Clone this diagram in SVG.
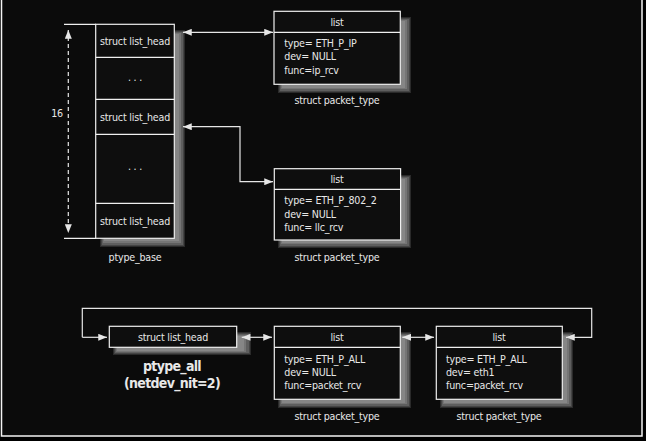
<svg xmlns="http://www.w3.org/2000/svg" width="646" height="441" viewBox="0 0 646 441">
<defs>
<marker id="ah" viewBox="0 0 10 8" refX="10" refY="4" markerWidth="9" markerHeight="7" markerUnits="userSpaceOnUse" orient="auto-start-reverse">
<path d="M0,0 L10,4 L0,8 Z" fill="#e6e6e6"/>
</marker>
</defs>
<style>
text{font-family:"Liberation Sans Narrow","DejaVu Sans Condensed","DejaVu Sans",sans-serif;font-stretch:condensed;font-size:10.6px;letter-spacing:-0.2px;fill:#e8e8e8}
.c{text-anchor:middle}
.box{fill:#0e0e0e;stroke:#f0f0f0;stroke-width:1.2}
.ln{fill:none;stroke:#f0f0f0;stroke-width:1.2}
.s1{fill:#2a2a2a}.s2{fill:#444}.s3{fill:#5e5e5e}.s4{fill:#757575}.s5{fill:#868686}
.conn{fill:none;stroke:#e6e6e6;stroke-width:1.2}
.b{font-size:14px;font-weight:bold;letter-spacing:-0.7px}
</style>
<rect x="0" y="0" width="646" height="441" fill="#000"/>
<rect x="1.5" y="-5" width="640.5" height="441" fill="#0b0b0b"/>
<path d="M1.5,-2 V436 H642 V-2" fill="none" stroke="#f4f4f4" stroke-width="1.5"/>

<g id="ptype_base">
<rect class="s1" x="100" y="30" width="85" height="217"/>
<rect class="s2" x="101" y="31" width="83" height="215"/>
<rect class="s3" x="102" y="32" width="81" height="213"/>
<rect class="s4" x="103" y="33" width="78" height="210"/>
<rect class="s5" x="104" y="34" width="75" height="207"/>
<rect class="box" x="95.7" y="24.3" width="78.6" height="214"/>
<path class="ln" d="M95.7,57.3 H174.3 M95.7,99.3 H174.3 M95.7,134.3 H174.3 M95.7,203.3 H174.3"/>
<text class="c" x="135" y="44.5">struct list_head</text>
<text class="c" x="135" y="81">. . .</text>
<text class="c" x="135" y="120.5">struct list_head</text>
<text class="c" x="135" y="170">. . .</text>
<text class="c" x="135" y="224.5">struct list_head</text>
<text class="c" x="135" y="261">ptype_base</text>
</g>

<g id="dimension">
<path class="ln" d="M64,24.3 H96 M64,238.3 H96"/>
<path class="conn" d="M68.3,30 V233" stroke-dasharray="4,3" marker-start="url(#ah)" marker-end="url(#ah)"/>
<text class="c" x="57" y="117">16</text>
</g>

<g id="pt_ip">
<rect class="s1" x="278" y="17" width="133" height="76"/>
<rect class="s2" x="279" y="18" width="131" height="74"/>
<rect class="s3" x="280" y="19" width="129" height="72"/>
<rect class="s4" x="281" y="20" width="126" height="69"/>
<rect class="s5" x="282" y="21" width="123" height="67"/>
<rect class="box" x="274" y="11.3" width="126.3" height="73"/>
<path class="ln" d="M274,32.3 H400.3"/>
<text class="c" x="337" y="25.5">list</text>
<text x="284.3" y="47">type= ETH_P_IP</text>
<text x="284.3" y="60.3">dev= NULL</text>
<text x="284.3" y="73.6">func=ip_rcv</text>
<text class="c" x="337" y="104">struct packet_type</text>
</g>

<g id="pt_802">
<rect class="s1" x="278" y="175" width="133" height="73"/>
<rect class="s2" x="279" y="176" width="131" height="71"/>
<rect class="s3" x="280" y="177" width="129" height="69"/>
<rect class="s4" x="281" y="178" width="126" height="66"/>
<rect class="s5" x="282" y="179" width="123" height="64"/>
<rect class="box" x="274.3" y="168.7" width="126.3" height="71.3"/>
<path class="ln" d="M274.3,189.3 H400.6"/>
<text class="c" x="337" y="183">list</text>
<text x="284.3" y="204">type= ETH_P_802_2</text>
<text x="284.3" y="217.5">dev= NULL</text>
<text x="284.3" y="230.7">func= llc_rcv</text>
<text class="c" x="337" y="260.5">struct packet_type</text>
</g>

<g id="ptype_all">
<rect class="s1" x="113" y="332" width="138" height="23"/>
<rect class="s2" x="114" y="333" width="136" height="21"/>
<rect class="s3" x="115" y="334" width="134" height="19"/>
<rect class="s4" x="116" y="335" width="130" height="17"/>
<rect class="s5" x="117" y="336" width="127" height="15"/>
<rect class="box" x="109.3" y="326.3" width="127.4" height="21"/>
<text class="c" x="173" y="340.5">struct list_head</text>
<text class="c b" x="172" y="371">ptype_all</text>
<text class="c b" x="172" y="388">(netdev_nit=2)</text>
</g>

<g id="pt_all1">
<rect class="s1" x="278" y="332" width="133" height="76"/>
<rect class="s2" x="279" y="333" width="131" height="74"/>
<rect class="s3" x="280" y="334" width="129" height="72"/>
<rect class="s4" x="281" y="335" width="126" height="69"/>
<rect class="s5" x="282" y="336" width="123" height="67"/>
<rect class="box" x="274.3" y="326.3" width="126" height="73"/>
<path class="ln" d="M274.3,347.3 H400.3"/>
<text class="c" x="337" y="340.5">list</text>
<text x="284.3" y="363">type= ETH_P_ALL</text>
<text x="284.3" y="376">dev= NULL</text>
<text x="284.3" y="389">func=packet_rcv</text>
<text class="c" x="337" y="420">struct packet_type</text>
</g>

<g id="pt_all2">
<rect class="s1" x="440" y="332" width="133" height="76"/>
<rect class="s2" x="441" y="333" width="131" height="74"/>
<rect class="s3" x="442" y="334" width="129" height="72"/>
<rect class="s4" x="443" y="335" width="126" height="69"/>
<rect class="s5" x="444" y="336" width="123" height="67"/>
<rect class="box" x="436.3" y="326.3" width="126" height="73"/>
<path class="ln" d="M436.3,347.3 H562.3"/>
<text class="c" x="499" y="340.5">list</text>
<text x="446" y="363">type= ETH_P_ALL</text>
<text x="446" y="376">dev= eth1</text>
<text x="446" y="389">func=packet_rcv</text>
<text class="c" x="499" y="420">struct packet_type</text>
</g>

<g id="connectors">
<path class="conn" d="M183,32.3 H273" marker-start="url(#ah)" marker-end="url(#ah)"/>
<path class="conn" d="M183,126.7 H240 V181.7 H273" marker-start="url(#ah)" marker-end="url(#ah)"/>
<path class="conn" d="M241.7,337.3 H272" marker-start="url(#ah)" marker-end="url(#ah)"/>
<path class="conn" d="M402.3,337.3 H434" marker-start="url(#ah)" marker-end="url(#ah)"/>
<path class="conn" d="M82.3,337.3 V308.3 H591.7 V337.3 H568"/>
<path class="conn" d="M568,337.3 H566" marker-end="url(#ah)"/>
<path class="conn" d="M82.3,337.3 H107" marker-end="url(#ah)"/>
</g>
</svg>
